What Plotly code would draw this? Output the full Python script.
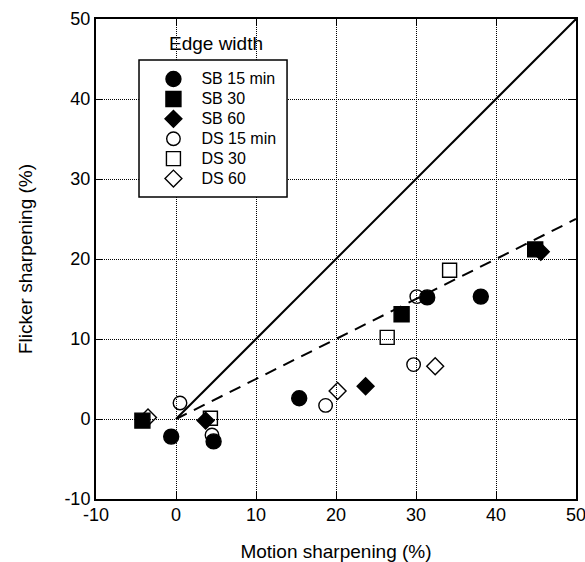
import plotly.graph_objects as go

# Data (Motion sharpening %, Flicker sharpening %)
sb15_x = [-0.6, 4.7, 15.4, 31.4, 38.1]
sb15_y = [-2.2, -2.8, 2.6, 15.2, 15.3]
sb30_x = [-4.2, 28.2, 44.9]
sb30_y = [-0.2, 13.1, 21.2]
sb60_x = [3.7, 23.7, 45.6]
sb60_y = [-0.2, 4.1, 20.9]
ds15_x = [0.5, 4.5, 18.7, 29.7, 30.1]
ds15_y = [2.0, -2.0, 1.7, 6.8, 15.3]
ds30_x = [4.3, 26.4, 34.2]
ds30_y = [0.1, 10.2, 18.6]
ds60_x = [-3.5, 20.2, 32.4]
ds60_y = [0.2, 3.5, 6.6]

identity_x = [0, 50]
identity_y = [0, 50]
fit_x = [0, 50]
fit_y = [0, 25]

tick_vals = [-10, 0, 10, 20, 30, 40, 50]
tick_text = ["-10", "0", "10", "20", "30", "40", "50"]

fig = go.Figure()

fig.add_trace(go.Scatter(x=identity_x, y=identity_y, mode="lines",
                         line=dict(color="black", width=2), showlegend=False))
fig.add_trace(go.Scatter(x=fit_x, y=fit_y, mode="lines",
                         line=dict(color="black", width=2, dash="12px,8px"), showlegend=False))

series = [
    ("SB 15 min", sb15_x, sb15_y, "circle", 15),
    ("SB 30", sb30_x, sb30_y, "square", 15),
    ("SB 60", sb60_x, sb60_y, "diamond", 13),
    ("DS 15 min", ds15_x, ds15_y, "circle-open", 13.5),
    ("DS 30", ds30_x, ds30_y, "square-open", 14),
    ("DS 60", ds60_x, ds60_y, "diamond-open", 13),
]
for name, xs, ys, sym, sz in series:
    fig.add_trace(go.Scatter(
        x=xs, y=ys, mode="markers",
        name='<span style="font-size:16px">' + name + '</span>',
        marker=dict(symbol=sym, size=sz, color="black",
                    line=dict(color="black", width=1.4)),
    ))

axis_common = dict(
    showline=True, linecolor="black", linewidth=2, mirror="ticks",
    ticks="inside", ticklen=7, tickcolor="black", tickwidth=1.2,
    showgrid=True, gridcolor="black", gridwidth=1, griddash="1px,1px",
    zeroline=False, tickvals=tick_vals, ticktext=tick_text,
    tickfont=dict(size=18, color="black"), automargin=False,
    ticklabeloverflow="allow",
)

fig.update_layout(
    width=585, height=562,
    margin=dict(l=96, r=9, t=19, b=63),
    paper_bgcolor="white", plot_bgcolor="white",
    font=dict(family="Liberation Sans, Arial, sans-serif", color="black"),
    xaxis=dict(range=[-10, 50], ticklabelstandoff=-2,
               title=dict(text="Motion sharpening (%)", font=dict(size=19, color="black"), standoff=21),
               **axis_common),
    yaxis=dict(range=[-10, 50],
               title=dict(text="Flicker sharpening (%)", font=dict(size=19, color="black"), standoff=27),
               **axis_common),
    legend=dict(x=0.103, y=0.906, xanchor="left", yanchor="top",
                bgcolor="rgba(0,0,0,0)", borderwidth=0,
                font=dict(size=13, color="black"), itemwidth=46),
    shapes=[dict(type="rect", xref="paper", yref="paper",
                 x0=0.0896, x1=0.398, y0=0.629, y1=0.9146,
                 line=dict(color="black", width=1.5), fillcolor="white", layer="above")],
    annotations=[dict(text="Edge width", x=0.25, y=0.95, xref="paper", yref="paper",
                      xanchor="center", yanchor="middle", showarrow=False,
                      font=dict(size=19, color="black"))],
)

fig.write_html("out.html", config={"displayModeBar": False},
               post_script="document.body.style.margin='0';document.body.style.overflow='hidden';")
